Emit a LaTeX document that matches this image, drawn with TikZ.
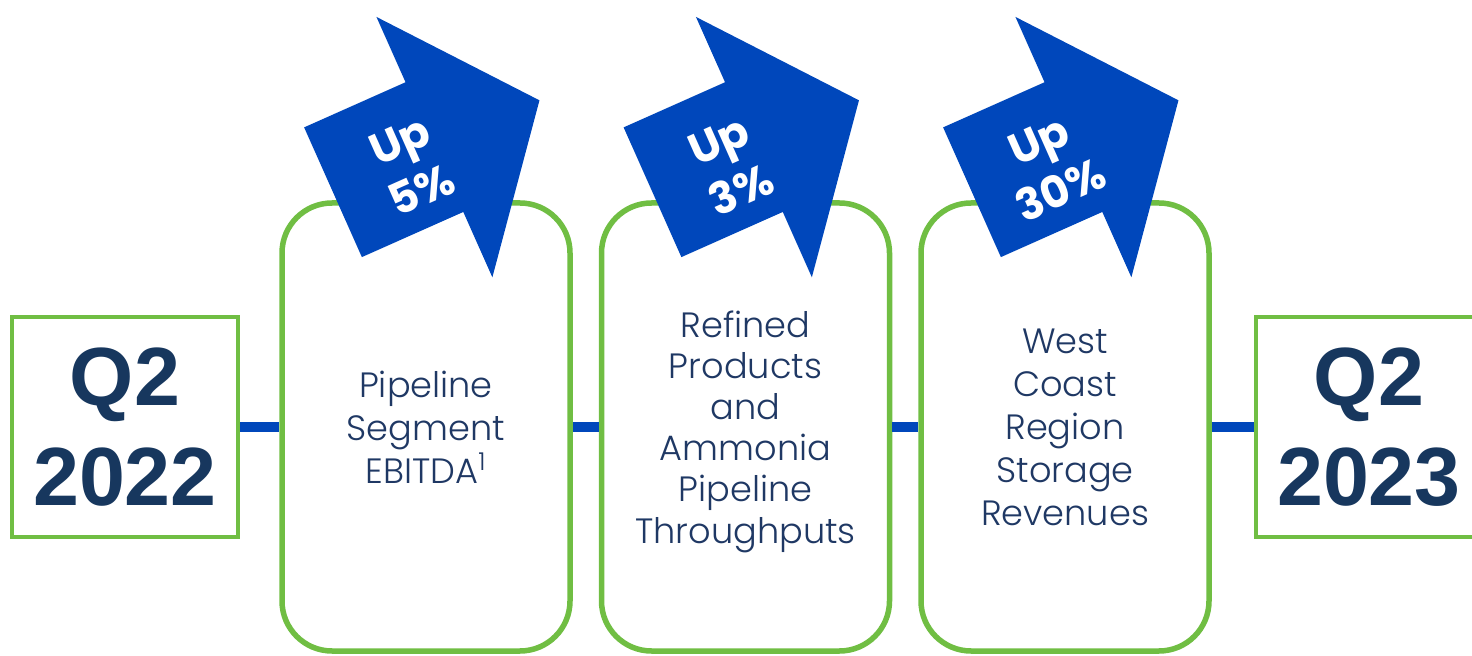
\documentclass[tikz,border=0pt]{standalone}
\usepackage{fontspec}
\setmainfont{Liberation Sans}
\newfontfamily\gothic{Poppins}[UprightFont={* Light}, BoldFont={* Bold}]
\usetikzlibrary{positioning}

\definecolor{leafgreen}{RGB}{112,190,67}
\definecolor{upblue}{RGB}{0,71,187}
\definecolor{qnavy}{RGB}{23,55,94}
\definecolor{tnavy}{RGB}{31,56,100}

\begin{document}
\begin{tikzpicture}[
  node distance=0.8cm,
  quarter/.style={rectangle, draw=leafgreen, line width=0.09cm, fill=white,
                  minimum width=4.52cm, minimum height=4.4cm, align=center,
                  text=qnavy, font=\fontsize{47}{57}\selectfont\bfseries},
  metric/.style={rectangle, draw=leafgreen, line width=0.11cm, rounded corners=1cm,
                 fill=white, minimum width=5.76cm, minimum height=8.96cm, align=center,
                 text=tnavy, font=\gothic\fontsize{20}{24.5}\selectfont},
  link/.style={draw=upblue, line width=0.2cm},
  uparrow/.style={fill=upblue},
  uptext/.style={text=white, align=center, rotate=24,
                 font=\gothic\bfseries\fontsize{25}{31}\selectfont}
]
\useasboundingbox (0,0) rectangle (29.44,13.1);

\node[quarter] (q22) at (2.5,4.56) {Q2\\2022};
\node[metric, right=0.78cm of q22] (ebitda) {Pipeline\\Segment\\EBITDA\textsuperscript{1}};
\node[metric, right=0.52cm of ebitda, font=\gothic\fontsize{20}{23.4}\selectfont,
      text depth=-0.2cm] (thru) {Refined\\Products\\and\\Ammonia\\Pipeline\\Throughputs};
\node[metric, right=0.52cm of thru] (storage) {West\\Coast\\Region\\Storage\\Revenues};
\node[quarter, right=0.84cm of storage] (q23) {Q2\\2023};

\draw[link] (q22) -- (ebitda);
\draw[link] (ebitda) -- (thru);
\draw[link] (thru) -- (storage);
\draw[link] (storage) -- (q23);

% up arrows over the boxes
\foreach \b/\pct in {ebitda/5, thru/3, storage/30} {
  \path (\b.north) ++(-1.86,0.16) coordinate (\b-tail);
  \begin{scope}[shift={(\b-tail)}, rotate=24]
    \fill[uparrow] (0,-1.42) -- (2.22,-1.42) -- (2.22,-2.85) -- (4.52,0)
      -- (2.22,2.85) -- (2.22,1.42) -- (0,1.42) -- cycle;
    \node[uptext] (\b-up) at (1.64,-0.14) {Up\\\pct\%};
  \end{scope}
}
\end{tikzpicture}
\end{document}
